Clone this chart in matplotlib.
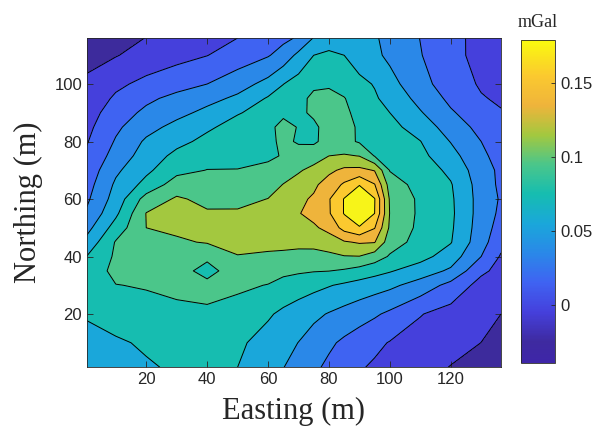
import matplotlib
matplotlib.use("Agg")
import matplotlib.pyplot as plt
import numpy as np
from matplotlib.colors import LinearSegmentedColormap, Normalize
from matplotlib.cm import ScalarMappable

plt.rcParams['contour.negative_linestyle'] = 'solid'

# ---------------- survey grid (m) and gravity anomaly values (mGal)

easting = [0.5, 10, 20, 30, 40, 50, 60, 65, 70, 75, 80, 85, 90, 95, 100, 110, 120, 130, 136.5]
northing = [1.5, 10, 20, 30, 35, 40, 45, 50, 55, 60, 65, 70, 75, 80, 85, 90, 95, 100, 110, 116]

gravity = [
    [0.050, 0.054, 0.058, 0.0625, 0.063, 0.060, 0.0465, 0.0405, 0.0322, 0.0237, 0.016, 0.0089, 0.0018, -0.0026, -0.0062, -0.0133, -0.0206, -0.030, -0.039],   # 1.5
    [0.055, 0.0575, 0.0625, 0.067, 0.068, 0.0635, 0.0523, 0.046, 0.0397, 0.0315, 0.0234, 0.0164, 0.0103, 0.0042, -0.001, -0.0074, -0.0138, -0.0201, -0.026],  # 10
    [0.0615, 0.0684, 0.0726, 0.077, 0.078, 0.0745, 0.0625, 0.0558, 0.050, 0.0443, 0.0387, 0.0334, 0.028, 0.0227, 0.0162, 0.0009, -0.0073, -0.0151, -0.020],  # 20
    [0.068, 0.0795, 0.0815, 0.083, 0.084, 0.0825, 0.0795, 0.0743, 0.0699, 0.0655, 0.0612, 0.0568, 0.0526, 0.0484, 0.0443, 0.0318, 0.0137, -0.007, -0.0107],  # 30
    [0.066, 0.086, 0.088, 0.086, 0.075, 0.088, 0.086, 0.084, 0.0825, 0.081, 0.0803, 0.0776, 0.0723, 0.067, 0.0616, 0.050, 0.0367, 0.004, -0.006],  # 35
    [0.0605, 0.083, 0.0914, 0.092, 0.083, 0.0996, 0.0978, 0.097, 0.0955, 0.094, 0.0956, 0.099, 0.0995, 0.090, 0.078, 0.0668, 0.0504, 0.020, -0.002],  # 40
    [0.0463, 0.0815, 0.096, 0.0972, 0.1015, 0.103, 0.104, 0.104, 0.104, 0.1055, 0.110, 0.118, 0.122, 0.121, 0.0888, 0.073, 0.0611, 0.0277, 0.006],  # 45
    [0.0335, 0.0685, 0.100, 0.104, 0.104, 0.104, 0.109, 0.111, 0.113, 0.117, 0.126, 0.147, 0.158, 0.141, 0.0967, 0.075, 0.063, 0.030, 0.012],  # 50
    [0.0228, 0.0559, 0.1006, 0.107, 0.102, 0.102, 0.107, 0.110, 0.119, 0.126, 0.138, 0.161, 0.178, 0.160, 0.099, 0.076, 0.064, 0.0314, 0.016],  # 55
    [0.0167, 0.0483, 0.088, 0.1025, 0.0953, 0.0955, 0.1003, 0.1055, 0.116, 0.1225, 0.1385, 0.161, 0.177, 0.161, 0.0975, 0.076, 0.0633, 0.0317, 0.018],  # 60
    [0.0121, 0.0433, 0.0663, 0.0895, 0.0879, 0.0877, 0.0927, 0.1005, 0.109, 0.1164, 0.1285, 0.143, 0.159, 0.141, 0.091, 0.072, 0.0615, 0.0308, 0.016],  # 65
    [0.0076, 0.0364, 0.0559, 0.0743, 0.0805, 0.0805, 0.0836, 0.0916, 0.0975, 0.1065, 0.116, 0.124, 0.125, 0.119, 0.079, 0.071, 0.0556, 0.0284, 0.016],  # 70
    [0.0031, 0.0277, 0.0492, 0.065, 0.072, 0.075, 0.0775, 0.081, 0.086, 0.0895, 0.100, 0.102, 0.0995, 0.079, 0.074, 0.065, 0.0474, 0.0234, 0.014],  # 75
    [-0.0012, 0.0218, 0.0431, 0.0547, 0.065, 0.070, 0.0765, 0.083, 0.0785, 0.0775, 0.086, 0.0855, 0.078, 0.074, 0.068, 0.0605, 0.0392, 0.020, 0.010],  # 80
    [-0.005, 0.0164, 0.0331, 0.0461, 0.0571, 0.067, 0.0775, 0.083, 0.0795, 0.077, 0.086, 0.085, 0.078, 0.070, 0.066, 0.0512, 0.031, 0.014, 0.006],  # 85
    [-0.0089, 0.0101, 0.0243, 0.0341, 0.0453, 0.0587, 0.067, 0.078, 0.077, 0.0825, 0.085, 0.0835, 0.075, 0.066, 0.060, 0.0417, 0.0222, 0.0091, 0.0012],  # 90
    [-0.0127, 0.0029, 0.0159, 0.0255, 0.0336, 0.0439, 0.062, 0.068, 0.076, 0.083, 0.0845, 0.081, 0.069, 0.062, 0.0544, 0.0333, 0.0157, 0.0013, -0.0025],  # 95
    [-0.0165, -0.004, 0.0051, 0.0125, 0.020, 0.0314, 0.0464, 0.0597, 0.068, 0.0775, 0.078, 0.071, 0.064, 0.059, 0.0465, 0.0271, 0.0094, -0.002, -0.004],  # 100
    [-0.026, -0.021, -0.0125, -0.0063, -0.0004, 0.0089, 0.0185, 0.028, 0.045, 0.060, 0.063, 0.060, 0.052, 0.0439, 0.0361, 0.021, 0.0058, -0.006, -0.010],  # 110
    [-0.036, -0.028, -0.0195, -0.0124, -0.0062, 0.0, 0.0103, 0.0154, 0.0222, 0.041, 0.052, 0.055, 0.050, 0.042, 0.0345, 0.0196, 0.0057, -0.006, -0.011],  # 116
]

levels = [-0.04, -0.02, 0.0, 0.02, 0.04, 0.06, 0.08, 0.10, 0.12, 0.14, 0.16, 0.18]
cbar_ticks = [0, 0.05, 0.1, 0.15]
cbar_labels = ['0', '0.05', '0.1', '0.15']

# parula-like colours of each filled band
band_colours = ['#3d2b9c', '#4540dc', '#3f63f2', '#2a88e8', '#1aa7da', '#16bdb0',
                '#4bc68a', '#a3c83f', '#efb43b', '#fbc92f', '#f7f419']
cmap = LinearSegmentedColormap.from_list('parula_like', [
    (0.0, '#3e26a8'), (0.064, '#3e2aa0'), (0.156, '#4540dc'), (0.248, '#3f63f2'),
    (0.339, '#2a88e8'), (0.431, '#1aa7da'), (0.523, '#16bdb0'), (0.615, '#4bc68a'),
    (0.706, '#a3c83f'), (0.798, '#efb43b'), (0.89, '#fbc92f'), (1.0, '#f9fb0e')])

Z = np.array(gravity)

fig = plt.figure(figsize=(5.95, 4.32), dpi=100)
ax = fig.add_axes([0.146, 0.150, 0.696, 0.762])

ax.contourf(easting, northing, Z, levels=levels, colors=band_colours)
ax.contour(easting, northing, Z, levels=levels[1:-1], colors='k', linewidths=0.7)

ax.set_xlim(0.5, 136.5)
ax.set_ylim(1.5, 116)
ax.set_xticks([20, 40, 60, 80, 100, 120])
ax.set_yticks([20, 40, 60, 80, 100])

tick_col = '#262626'
ax.tick_params(direction='in', top=True, right=True, length=4, width=0.6,
               colors=tick_col, labelsize=12)
for lab in ax.get_xticklabels() + ax.get_yticklabels():
    lab.set_fontfamily('Liberation Sans')
for s in ax.spines.values():
    s.set_color(tick_col)
    s.set_linewidth(0.6)

ax.set_xlabel('Easting (m)', fontfamily='Liberation Serif', fontsize=22, color=tick_col, labelpad=7)
ax.set_ylabel('Northing (m)', fontfamily='Liberation Serif', fontsize=22, color=tick_col, labelpad=8)

# ---------------- colour bar
cax = fig.add_axes([0.875, 0.160, 0.058, 0.748])
sm = ScalarMappable(norm=Normalize(-0.039, 0.179), cmap=cmap)
cbar = fig.colorbar(sm, cax=cax, ticks=cbar_ticks)
cbar.ax.set_yticklabels(cbar_labels)
cbar.ax.tick_params(direction='in', length=3, width=0.6, colors=tick_col, labelsize=12)
for lab in cbar.ax.get_yticklabels():
    lab.set_fontfamily('Liberation Sans')
cbar.outline.set_linewidth(0.6)
cbar.outline.set_edgecolor(tick_col)

fig.text(0.904, 0.949, 'mGal', ha='center', va='center', fontfamily='Liberation Serif',
         fontsize=13, color=tick_col)

fig.savefig('out.png', dpi=100)
